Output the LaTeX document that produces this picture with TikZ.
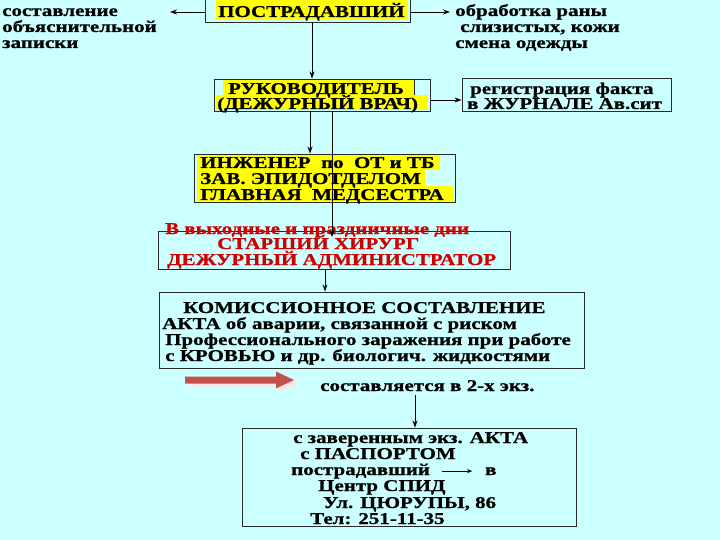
\documentclass[tikz,border=0pt]{standalone}
\usepackage{fontspec}
\setmainfont{Liberation Serif}[FakeStretch=1.27, BoldFeatures={FakeBold=0.8}]
\usetikzlibrary{arrows.meta,fit}
\definecolor{bgc}{RGB}{204,255,255}
\definecolor{hl}{RGB}{255,255,0}
\definecolor{redtxt}{RGB}{208,0,0}
\definecolor{bigarrow}{RGB}{196,80,77}
\definecolor{arrowshadow}{RGB}{250,228,228}
\definecolor{boxline}{RGB}{40,40,40}
\begin{document}
\begin{tikzpicture}[x=1pt,y=-1pt,
  txt/.style={inner sep=0pt, anchor=base west, font=\bfseries\fontsize{16.5}{17}\selectfont},
  redt/.style={txt, text=redtxt},
  box/.style={draw=boxline, line width=0.9pt, inner sep=0pt},
  arr/.style={draw=black, line width=0.9pt, -{Stealth[length=7pt,width=5pt]}},
  smallarr/.style={draw=black, line width=0.7pt, -{Stealth[length=5pt,width=4pt]}}
]
\fill[bgc] (0,0) rectangle (720,540);
\useasboundingbox (0,0) rectangle (720,540);

% yellow highlights
\fill[hl] (216,0) rectangle (408,20);
\fill[hl] (223,80) rectangle (414,95);
\fill[hl] (216,95) rectangle (428,110);
\fill[hl] (197,155) rectangle (440,170);
\fill[hl] (197,170) rectangle (425,186);
\fill[hl] (197,186) rectangle (453,201);

% boxes
\node[box, fit={(205,-5) (410,22)}] (post) {};
\node[box, fit={(214,79) (430,111)}] (ruk) {};
\node[box, fit={(462,78) (671,111)}] (reg) {};
\node[box, fit={(194,154) (455,202)}] (inzh) {};
\node[box, fit={(158,231) (510,269)}] (star) {};
\node[box, fit={(159,292) (584,368)}] (kom) {};
\node[box, fit={(242,428) (576,526)}] (fin) {};
\draw[boxline, line width=0.6pt] (414,80) -- (414,95);

% texts
\node[txt] (posttxt) at (218,17) {ПОСТРАДАВШИЙ};
\node[txt] (l1) at (2,16) {составление};
\node[txt] (l2) at (2,32) {объяснительной};
\node[txt] (l3) at (2,48) {записки};
\node[txt] (r1) at (455,16) {обработка раны};
\node[txt] (r2) at (460,32) {слизистых, кожи};
\node[txt] (r3) at (455,48) {смена одежды};
\node[txt] (ruk1) at (228,94) {РУКОВОДИТЕЛЬ};
\node[txt] (ruk2) at (217,109) {(ДЕЖУРНЫЙ ВРАЧ)};
\node[txt] (reg1) at (470,94) {регистрация факта};
\node[txt] (reg2) at (467,109) {в ЖУРНАЛЕ Ав.сит};
\node[txt] (in1) at (200,168) {ИНЖЕНЕР\ \ по\ \ ОТ и ТБ};
\node[txt] (in2) at (200,184) {ЗАВ. ЭПИДОТДЕЛОМ};
\node[txt] (in3) at (200,200) {ГЛАВНАЯ\ \ МЕДСЕСТРА};
\node[redt] (vyh) at (165,234) {В выходные и праздничные дни};
\node[redt] (st1) at (217,249) {СТАРШИЙ ХИРУРГ};
\node[redt] (st2) at (167,265) {ДЕЖУРНЫЙ АДМИНИСТРАТОР};
\node[txt] (k1) at (183,313) {КОМИССИОННОЕ СОСТАВЛЕНИЕ};
\node[txt] (k2) at (162,329) {АКТА об аварии, связанной с риском};
\node[txt] (k3) at (165,345) {Профессионального заражения при работе};
\node[txt] (k4) at (165,361) {с КРОВЬЮ и др. биологич. жидкостями};
\node[txt] (sost) at (320,391) {составляется в 2-х экз.};
\node[txt] (f1) at (293,443) {с заверенным экз. АКТА};
\node[txt] (f2) at (300,459) {с ПАСПОРТОМ};
\node[txt] (pv) at (291,475) {пострадавший};
\node[txt] (vv) at (485,475) {в};
\node[txt] (f4) at (318,491) {Центр СПИД};
\node[txt] (f5) at (323,508) {Ул. ЦЮРУПЫ, 86};
\node[txt] (f6) at (310,524) {Тел: 251-11-35};

% big red arrow
\fill[arrowshadow] (189,379.5) -- (280,379.5) -- (280,374.5) -- (300,383) -- (280,391.5) -- (280,386.5) -- (189,386.5) -- cycle;
\fill[bigarrow] (185,376.5) -- (276,376.5) -- (276,371.5) -- (294,380) -- (276,388.5) -- (276,383.5) -- (185,383.5) -- cycle;

% connectors
\coordinate (la) at (170,12);
\coordinate (ra) at (450,12);
\draw[arr] (post.west |- la) -- (la);
\draw[arr] (post.east |- ra) -- (ra);
\coordinate (v1) at (312,0);
\draw[arr] (post.south -| v1) -- (ruk.north -| v1);
\coordinate (h1) at (0,100);
\draw[arr] (ruk.east |- h1) -- (reg.west |- h1);
\coordinate (v2) at (310,0);
\draw[arr] (ruk.south -| v2) -- (inzh.north -| v2);
\coordinate (v3) at (332,237);
\draw[arr] (ruk.south -| v3) -- (v3);
\coordinate (v4) at (325,0);
\draw[arr] (star.south -| v4) -- (kom.north -| v4);
\coordinate (v5) at (415,0);
\draw[arr] ([yshift=-4pt]sost.south -| v5) -- (fin.north -| v5);
\draw[smallarr] ([xshift=12pt]pv.east) -- ([xshift=42pt]pv.east);
\end{tikzpicture}
\end{document}
